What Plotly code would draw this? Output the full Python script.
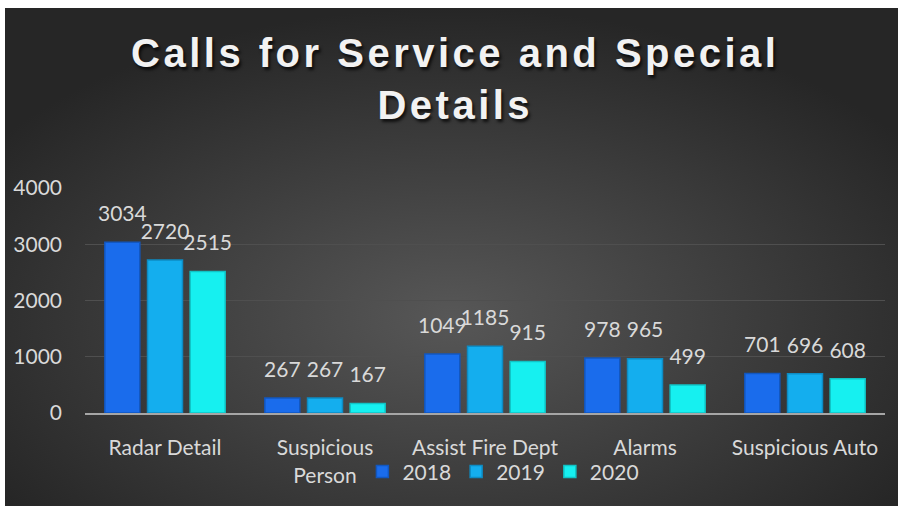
import plotly.graph_objects as go
import base64

categories = ["Radar Detail", "Suspicious<br>Person", "Assist Fire Dept", "Alarms", "Suspicious Auto"]
years = ["2018", "2019", "2020"]
values_2018 = [3034, 267, 1049, 978, 701]
values_2019 = [2720, 267, 1185, 965, 696]
values_2020 = [2515, 167, 915, 499, 608]
y_ticks = [0, 1000, 2000, 3000, 4000]

series = [values_2018, values_2019, values_2020]
fill_colors = ["#1a6cec", "#14aeee", "#16f0f0"]
line_colors = ["#1257c0", "#0d8cc4", "#10c4c6"]

fig = go.Figure()
for name, vals, fc, lc in zip(years, series, fill_colors, line_colors):
    fig.add_trace(go.Bar(
        name=name, x=categories, y=vals,
        marker=dict(color=fc, line=dict(color=lc, width=1.5)),
        offsetgroup=name, hoverinfo="skip",
    ))
for name, vals in zip(years, series):
    fig.add_trace(go.Scatter(
        x=categories, y=vals, mode="markers+text",
        text=[str(v) for v in vals], textposition="top center",
        textfont=dict(color="#d9d9d9", size=21, family="Lato"),
        marker=dict(size=24, opacity=0),
        offsetgroup=name, showlegend=False, hoverinfo="skip", cliponaxis=False,
    ))

svg = ('<svg xmlns="http://www.w3.org/2000/svg" width="900" height="500" viewBox="0 0 900 500" '
       'preserveAspectRatio="none">'
       '<defs><radialGradient id="g" cx="50%" cy="62%" r="62%" gradientUnits="objectBoundingBox">'
       '<stop offset="0%" stop-color="#575757"/><stop offset="100%" stop-color="#262626"/>'
       '</radialGradient></defs><rect width="900" height="500" fill="url(#g)"/></svg>')
src = "data:image/svg+xml;base64," + base64.b64encode(svg.encode()).decode()

fig.update_layout(
    width=898, height=506,
    margin=dict(l=85, r=13, t=188, b=93),
    paper_bgcolor="white",
    plot_bgcolor="rgba(0,0,0,0)",
    barmode="group", bargap=0.2, bargroupgap=0.18,
    scattermode="group", scattergap=0.2,
    title=dict(text="<b>Calls for Service and Special<br>Details</b>",
               x=0.507, xanchor="center", y=1 - 67 / 506, yanchor="middle",
               xref="container", yref="container",
               font=dict(family="Liberation Sans", size=40, color="#f2f2f2",
                         shadow="2px 3px 3px rgba(0,0,0,0.7)")),
    images=[dict(source=src, xref="paper", yref="paper", x=-0.1, y=1.8,
                 sizex=1.11625, sizey=2.2133, xanchor="left", yanchor="top",
                 sizing="stretch", layer="below")],
    legend=dict(orientation="h", x=0.523, y=-0.262, xanchor="center", yanchor="middle",
                font=dict(color="#d9d9d9", size=21, family="Lato"),
                bgcolor="rgba(0,0,0,0)", itemwidth=30),
    font=dict(family="Lato", color="#d9d9d9", size=21),
    showlegend=True,
)
fig.update_yaxes(range=[0, 4000], tickvals=y_ticks, showgrid=True,
                 gridcolor="#4f4f4f", gridwidth=1, zeroline=False,
                 tickfont=dict(color="#d9d9d9", size=21), ticks="", ticklabelstandoff=22,
                 showline=False)
fig.update_xaxes(showline=True, linecolor="#a6a6a6", linewidth=2, ticks="",
                 tickfont=dict(color="#d9d9d9", size=21), ticklabelstandoff=15)

post = ("document.body.style.margin='0';document.body.style.overflow='hidden';"
        "var gd=document.getElementById('{plot_id}');"
        "gd.querySelectorAll('.gtitle').forEach(function(e){e.style.letterSpacing='3.5px';});")

fig.write_html("out.html", post_script=post, config={"displayModeBar": False})
